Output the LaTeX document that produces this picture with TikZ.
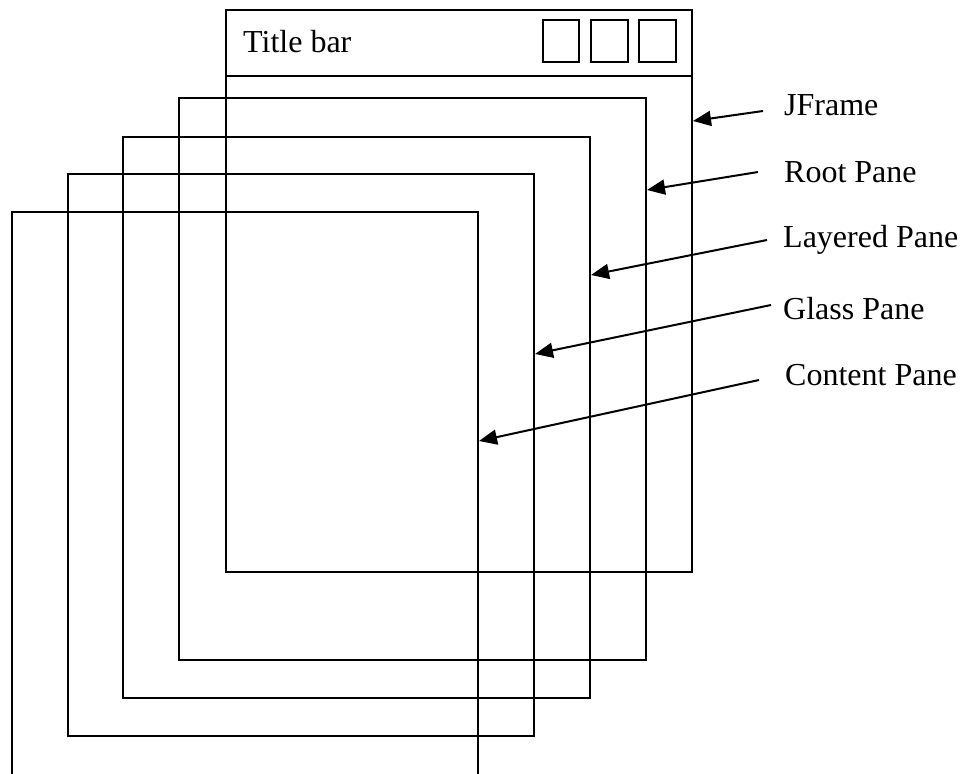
\documentclass[tikz,border=0pt]{standalone}
\usepackage{fontspec}
\setmainfont{Liberation Serif}
\usetikzlibrary{arrows.meta}
\tikzset{
  pane/.style={line width=2pt, line join=miter, line cap=rect},
  lbl/.style={anchor=base west, inner sep=0pt, font=\fontsize{32}{38}\selectfont},
  pointer/.style={line width=2pt, -{Triangle[length=18pt, width=15pt]}},
  winbtn/.style={line width=2pt}
}
\begin{document}
\begin{tikzpicture}[x=1pt, y=-1pt]
  \useasboundingbox (0,0) rectangle (960,773);

  % frame outline with title bar and its three buttons
  \draw[pane] (226,10) rectangle (692,572);
  \draw[pane] (226,76) -- (692,76);
  \node[lbl] (title) at (243,53) {Title bar};
  \draw[winbtn] (543,20) rectangle (579,62);
  \draw[winbtn] (591,20) rectangle (628,62);
  \draw[winbtn] (639,20) rectangle (676,62);

  % stacked panes, each shifted down and to the left
  \draw[pane] (179,98) rectangle (646,660);
  \draw[pane] (123,137) rectangle (590,698);
  \draw[pane] (68,174) rectangle (534,736);
  \draw[pane] (12,773) -- (12,212) -- (478,212) -- (478,773);

  % labels
  \node[lbl] (jframe)   at (784,115) {JFrame};
  \node[lbl] (root)     at (784,182) {Root Pane};
  \node[lbl] (layered)  at (783,247) {Layered Pane};
  \node[lbl] (glass)    at (783,319) {Glass Pane};
  \node[lbl] (content)  at (785,385) {Content Pane};

  % arrow start and end points
  \coordinate (jframe-s)  at (763,111);
  \coordinate (jframe-t)  at (693,121);
  \coordinate (root-s)    at (758,172);
  \coordinate (root-t)    at (647,190);
  \coordinate (layered-s) at (767,240);
  \coordinate (layered-t) at (591,275);
  \coordinate (glass-s)   at (771,305);
  \coordinate (glass-t)   at (535,354);
  \coordinate (content-s) at (759,380);
  \coordinate (content-t) at (479,441);

  \draw[pointer] (jframe-s) -- (jframe-t);
  \draw[pointer] (root-s) -- (root-t);
  \draw[pointer] (layered-s) -- (layered-t);
  \draw[pointer] (glass-s) -- (glass-t);
  \draw[pointer] (content-s) -- (content-t);
\end{tikzpicture}
\end{document}
